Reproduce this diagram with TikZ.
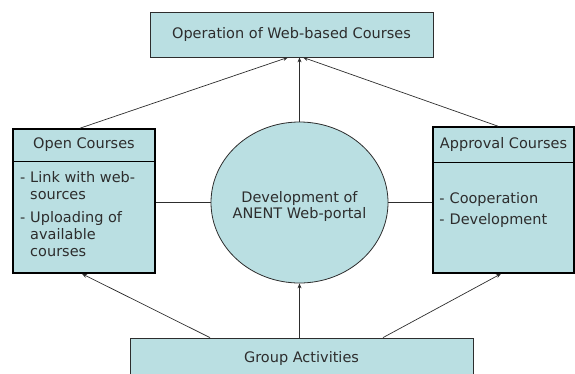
\documentclass[tikz,border=0pt]{standalone}
\usepackage{fontspec}
\setmainfont{DejaVu Sans}
\usetikzlibrary{shapes,arrows,arrows.meta,positioning,fit}
\usetikzlibrary{calc}
\definecolor{boxfill}{RGB}{186,223,226}
\definecolor{linegray}{RGB}{45,45,45}
\definecolor{textgray}{RGB}{45,45,45}
\tikzset{
  plain/.style={
    rectangle,
    draw=linegray, line width=0.8pt,
    fill=boxfill,
    inner sep=0pt
  },
  course/.style={
    rectangle,
    draw=black, line width=1.6pt,
    fill=boxfill,
    inner sep=0pt
  },
  head/.style={
    rectangle,
    inner sep=0pt,
    anchor=north
  },
  link/.style={
    draw=linegray, line width=0.7pt
  },
}

\begin{document}
\begin{tikzpicture}[x=1pt,y=-1pt,>={Stealth[length=5pt,width=4pt]},font=\fontsize{14.5}{17}\selectfont,text=textgray,every text node part/.style={align=center}]

\useasboundingbox (0,0) rectangle (575,373);
\clip (0,0) rectangle (575,373);

\node[plain, minimum width=283pt, minimum height=45pt] (OPER) at (291.5,34.5) {Operation of Web-based Courses};

% left box
\node[course, minimum width=142pt, minimum height=144pt] (OPEN) at (84,201) {};
\node[head, minimum width=142pt, minimum height=33pt] (OPENHEAD) at (OPEN.north) {Open Courses};
\draw[black, line width=1pt] (OPENHEAD.south west) -- (OPENHEAD.south east);
\node[anchor=north west, inner sep=0pt, font=\fontsize{14.5}{17}\selectfont] (OPENLIST) at ([xshift=7pt,yshift=-9pt]OPENHEAD.south west) {%
  \begin{tabular}{@{}l@{\hspace{5pt}}l@{}}
  - & Link with web-\\
    & sources\\[6pt]
  - & Uploading of\\
    & available\\
    & courses
  \end{tabular}};

% right box
\node[course, minimum width=141pt, minimum height=146pt] (APPR) at (503.5,200) {};
\node[head, minimum width=141pt, minimum height=36pt] (APPRHEAD) at (APPR.north) {Approval Courses};
\draw[black, line width=1pt] (APPRHEAD.south west) -- (APPRHEAD.south east);
\node[anchor=west, inner sep=0pt, font=\fontsize{14.5}{21}\selectfont] (APPRLIST) at ([xshift=7pt,yshift=-9.5pt]APPR.west) {%
  \begin{tabular}{@{}l@{\hspace{5pt}}l@{}}
  - & Cooperation\\
  - & Development
  \end{tabular}};

\node[ellipse, draw=linegray, line width=0.8pt, fill=boxfill, minimum width=177pt, minimum height=161pt, inner xsep=-5pt, inner ysep=0pt] (DEV) at (299.5,202.5) {\rule{0pt}{19pt}Development of\\ANENT Web-portal};

\node[plain, minimum width=343pt, minimum height=40pt] (GROUP) at (301.5,358) {Group Activities};

% connectors
\draw[link,->] ([xshift=-4pt]OPEN.north) -- ([xshift=-3.5pt]OPER.south);
\draw[link,->] (DEV.north) -- (DEV.north |- OPER.south);
\draw[link,->] ([xshift=-5.5pt]APPR.north) -- ([xshift=11.5pt]OPER.south);

\draw[link] (OPEN.east |- DEV.west) -- (DEV.west);
\draw[link] (DEV.east) -- (APPR.west |- DEV.east);

\draw[link,->] ([xshift=-91.5pt]GROUP.north) -- ([xshift=-2pt]OPEN.south);
\draw[link,->] (DEV.south |- GROUP.north) -- (DEV.south);
\draw[link,->] ([xshift=81.5pt]GROUP.north) -- ([xshift=-2.5pt]APPR.south);
\end{tikzpicture}
\end{document}
